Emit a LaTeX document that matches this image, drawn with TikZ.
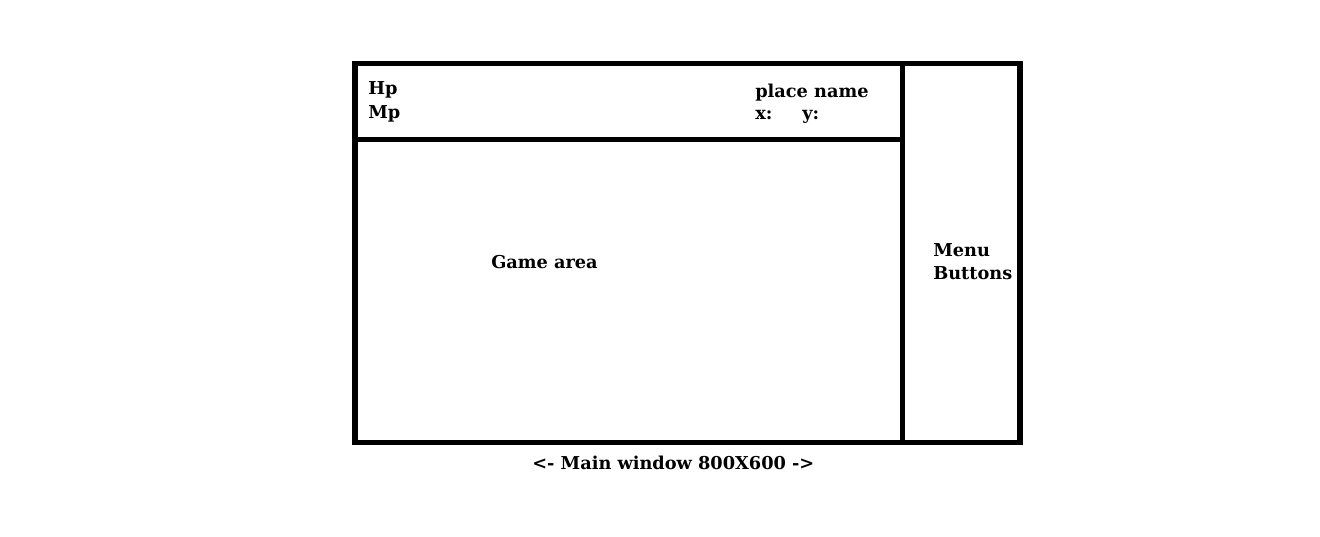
\documentclass[tikz,border=0pt]{standalone}
\usepackage{fontspec}
\setmainfont{DejaVu Serif}
\begin{document}
\begin{tikzpicture}[x=0.75pt,y=-0.75pt]
\tikzstyle{frame}=[line width=4.1pt]
\tikzstyle{txt}=[anchor=base west,inner sep=0pt,font=\fontsize{13.3}{18}\selectfont\bfseries]
\useasboundingbox (0,0) rectangle (1320,536);
% window outline and panels
\coordinate (NW) at (355,63.5);
\coordinate (SE) at (1020,442.5);
\coordinate (DT) at (902.5,63.5);
\coordinate (DB) at (902.5,442.5);
\coordinate (HL) at (355,139.5);
\coordinate (HR) at (902.5,139.5);
\draw[frame] (NW) rectangle (SE);
\draw[frame] (DT) -- (DB);
\draw[frame] (HL) -- (HR);
% texts
\node[txt] (hp) at (368,94) {Hp};
\node[txt] (mp) at (368,118) {Mp};
\node[txt] (place) at (755,97) {place name};
\node[txt] (xpos) at (755,119) {x:};
\node[txt] (ypos) at (802,119) {y:};
\node[txt] (game) at (491,268) {Game area};
\node[txt] (menu) at (933,256) {Menu};
\node[txt] (buttons) at (933,279) {Buttons};
\node[txt] (caption) at (532,469) {<- Main window 800X600 ->};
\end{tikzpicture}
\end{document}
